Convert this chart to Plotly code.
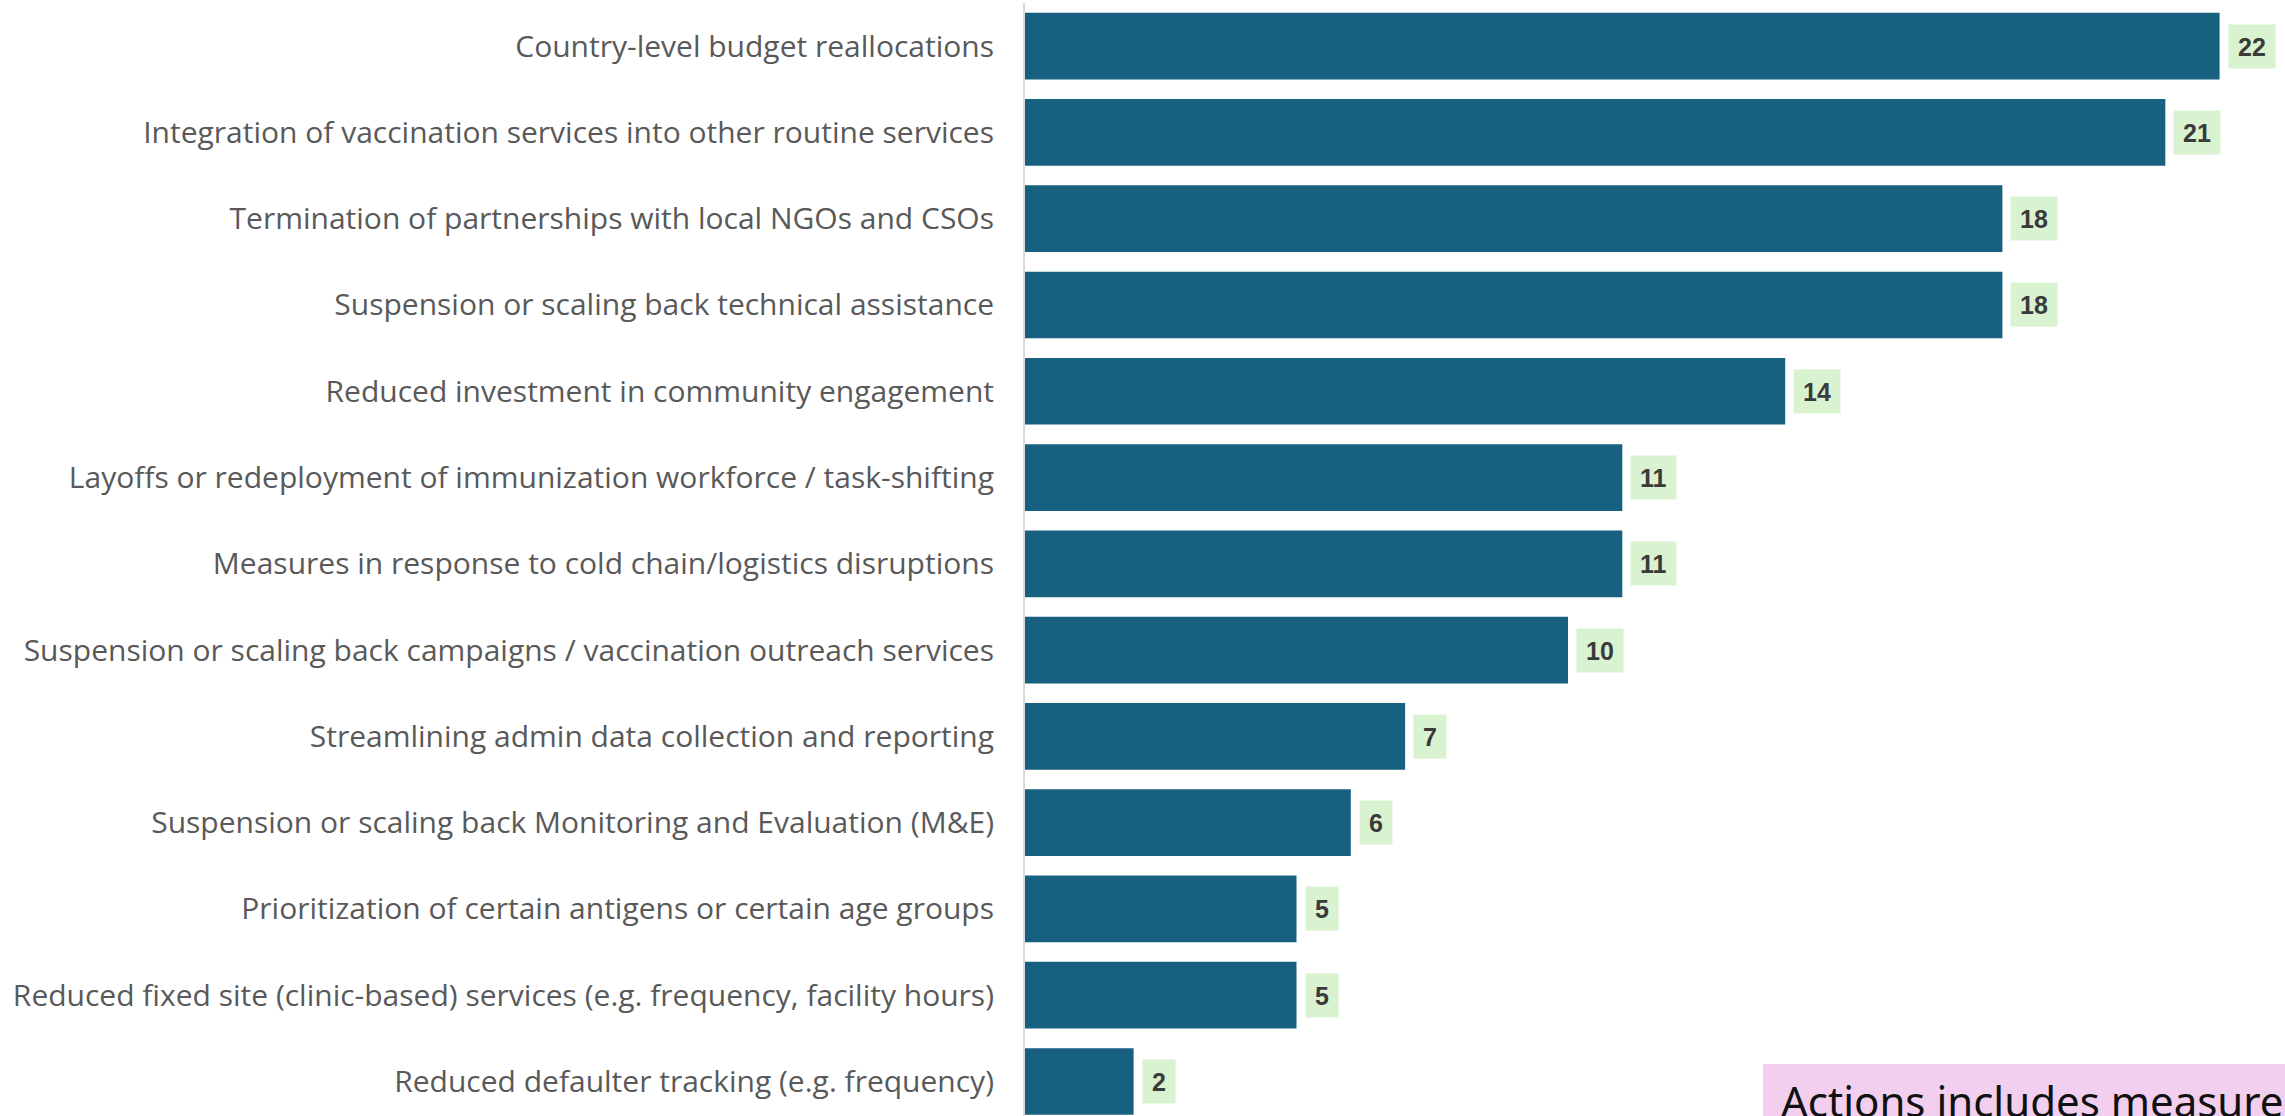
import plotly.graph_objects as go

categories = [
    "Country-level budget reallocations",
    "Integration of vaccination services into other routine services",
    "Termination of partnerships with local NGOs and CSOs",
    "Suspension or scaling back technical assistance",
    "Reduced investment in community engagement",
    "Layoffs or redeployment of immunization workforce / task-shifting",
    "Measures in response to cold chain/logistics disruptions",
    "Suspension or scaling back campaigns / vaccination outreach services",
    "Streamlining admin data collection and reporting",
    "Suspension or scaling back Monitoring and Evaluation (M&E)",
    "Prioritization of certain antigens or certain age groups",
    "Reduced fixed site (clinic-based) services (e.g. frequency, facility hours)",
    "Reduced defaulter tracking (e.g. frequency)",
]
values = [22, 21, 18, 18, 14, 11, 11, 10, 7, 6, 5, 5, 2]
note_text = "Actions includes measures"

BAR = "#17607f"
W, H = 2285, 1116
L, T = 1025, 3


def px_x(sx):
    return (sx - L) / (W - L)


def px_y(sy):
    return (H - sy) / (H - T)


fig = go.Figure(
    go.Bar(
        x=values,
        y=categories,
        orientation="h",
        marker=dict(color=BAR, line=dict(width=0)),
        hoverinfo="skip",
    )
)

for c, v in zip(categories, values):
    fig.add_annotation(
        x=v, y=c, xref="x", yref="y",
        text=f"<b>{v}</b>",
        showarrow=False,
        xanchor="left", yanchor="middle",
        xshift=8,
        bgcolor="#d9f2d0",
        borderpad=9,
        height=25,
        font=dict(family="Liberation Sans", size=25, color="#3a3a3a"),
    )

# pink note box
fig.add_shape(
    type="rect", xref="paper", yref="paper",
    x0=px_x(1763), x1=px_x(2300), y0=px_y(1130), y1=px_y(1064),
    fillcolor="#f2cfee", line=dict(width=0), layer="above",
)
fig.add_annotation(
    x=px_x(1780), y=px_y(1071),
    xref="paper", yref="paper",
    text=note_text,
    showarrow=False,
    xanchor="left", yanchor="top",
    align="left",
    borderpad=0,
    font=dict(family="Noto Sans", size=42, color="#111111"),
)

fig.update_layout(
    width=W, height=H,
    margin=dict(l=L, r=0, t=T, b=0),
    paper_bgcolor="white",
    plot_bgcolor="white",
    bargap=0.227,
    showlegend=False,
    xaxis=dict(
        range=[0, (W - L) / 54.3],
        visible=False,
        showgrid=False, zeroline=False,
    ),
    yaxis=dict(
        range=[12.4, -0.5],
        autorange=False,
        showline=True, linecolor="#d9d9d9", linewidth=2,
        showgrid=False, zeroline=False,
        ticks="outside", ticklen=23, tickcolor="rgba(0,0,0,0)",
        tickfont=dict(family="Open Sans", size=30, color="#595959"),
        automargin=False,
    ),
)

fig.write_html(
    "out.html",
    config={"displayModeBar": False},
    post_script="document.body.style.margin='0px';",
)
